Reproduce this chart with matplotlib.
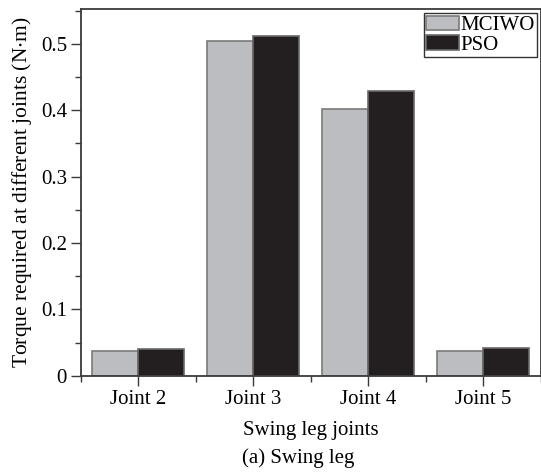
import numpy as np
import matplotlib.pyplot as plt
from matplotlib.ticker import MultipleLocator, FixedLocator

plt.rcParams['font.family'] = ['Liberation Serif', 'DejaVu Serif']
plt.rcParams['mathtext.fontset'] = 'stix'

# torque per joint for the two optimisers
joints = ['Joint 2', 'Joint 3', 'Joint 4', 'Joint 5']
mciwo = [0.037, 0.505, 0.402, 0.037]
pso = [0.040, 0.512, 0.429, 0.042]

fig = plt.figure(figsize=(5.41, 4.75), dpi=100)
ax = fig.add_axes([0.1497, 0.209, 0.8497, 0.7714])

x = np.arange(1, len(joints) + 1)
w = 0.4
ax.bar(x - w / 2, mciwo, w, color='#bcbdc1', edgecolor='#7a7a7a', linewidth=1.2, label='MCIWO')
ax.bar(x + w / 2, pso, w, color='#231f20', edgecolor='#6a6a6a', linewidth=1.2, label='PSO')

ax.set_xlim(0.5, 4.5)
ax.set_ylim(0, 0.552)
ax.set_xticks(x)
ax.set_xticklabels(joints)
ax.xaxis.set_minor_locator(FixedLocator([0.5, 1.5, 2.5, 3.5, 4.5]))
ax.set_yticks([0, 0.1, 0.2, 0.3, 0.4, 0.5])
ax.set_yticklabels(['0', '0.1', '0.2', '0.3', '0.4', '0.5'])
ax.yaxis.set_minor_locator(MultipleLocator(0.05))

ax.tick_params(which='major', direction='out', length=7.5, width=1.0, color='#3a3a3a',
               labelsize=15, pad=2.6)
ax.tick_params(which='minor', direction='out', length=4.5, width=1.0, color='#3a3a3a')
for s in ax.spines.values():
    s.set_color('#3a3a3a')
    s.set_linewidth(1.3)

ax.set_xlabel('Swing leg joints', fontsize=15, labelpad=8.5)
ax.set_ylabel('Torque required at different joints (N$\\cdot$m)', fontsize=15.5, labelpad=5)

leg = ax.legend(loc='upper right', fontsize=15, frameon=True, fancybox=False,
                edgecolor='black', handlelength=1.6, handleheight=0.72,
                handletextpad=0.05, borderpad=0.1, labelspacing=0.0,
                borderaxespad=0.2)
leg.get_frame().set_linewidth(1.0)

fig.text(0.552, 0.036, '(a) Swing leg', fontsize=15, ha='center', va='center')

fig.savefig('out.png', dpi=100)
